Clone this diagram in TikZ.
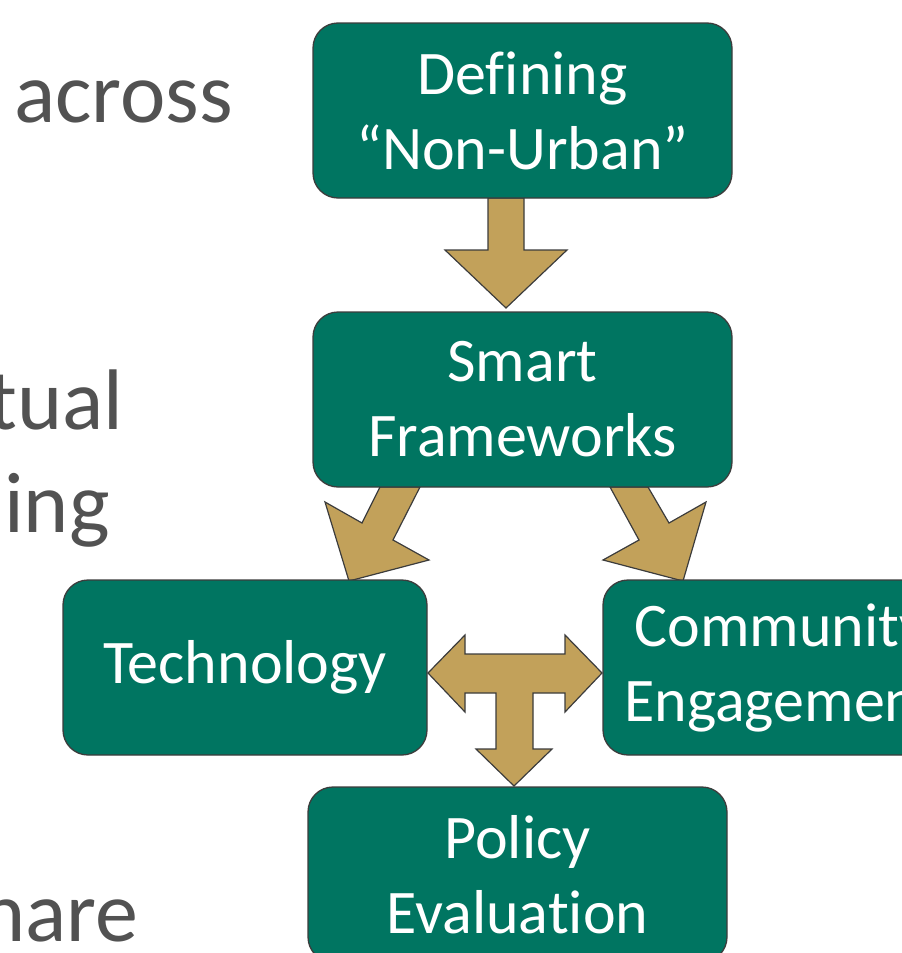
\documentclass[tikz,border=0pt]{standalone}
\usepackage{fontspec}
\setmainfont[Ligatures=NoCommon]{Carlito}
\definecolor{boxgreen}{RGB}{0,117,97}
\definecolor{arrowgold}{RGB}{194,161,90}
\definecolor{edgegray}{RGB}{60,60,60}
\definecolor{textgray}{RGB}{82,82,82}
\tikzset{
  stepbox/.style={draw=edgegray, line width=1.3pt, fill=boxgreen, rounded corners=25pt,
    text=white, align=center, font=\fontsize{62}{75}\selectfont, inner sep=0pt},
  blockarrow/.style={draw=edgegray, line width=1.2pt, fill=arrowgold, line join=miter},
  sidetext/.style={text=textgray, font=\fontsize{86}{100}\selectfont, inner sep=0pt, anchor=base west}
}
\begin{document}
\begin{tikzpicture}[x=1pt,y=-1pt]
\useasboundingbox (0,0) rectangle (902,953);
\clip (0,0) rectangle (902,953);

% side text (cut-off slide text)
\node[sidetext] (t1) at (14,122) {across};
\node[sidetext] (t2) at (-12,429) {tual};
\node[sidetext] (t3) at (4,532) {ing};
\node[sidetext] (t4) at (-20,941) {hare};

% block arrows
\draw[blockarrow] (488,198) -- (524,198) -- (524,250) -- (567,250) -- (506,308) -- (445,250) -- (488,250) -- cycle;
\draw[blockarrow] (380,487) -- (362,523) -- (325,502) -- (349,581) -- (429,560) -- (393,540) -- (420,487) -- cycle;
\draw[blockarrow] (648,487) -- (669,523) -- (706,502) -- (683,581) -- (603,560) -- (639,540) -- (610,487) -- cycle;
\draw[blockarrow] (428,673) -- (465,635) -- (465,654) -- (565,654) -- (565,635) -- (602,673) -- (565,712) -- (565,693)
  -- (533,693) -- (533,749) -- (552,749) -- (514,786) -- (476,749) -- (496,749) -- (496,693) -- (465,693) -- (465,712) -- cycle;

% boxes
\node[stepbox, minimum width=419pt, minimum height=175pt] (def) at (522.5,110.5) {Defining\\“Non-Urban”};
\node[stepbox, minimum width=419pt, minimum height=175pt] (smart) at (522.5,399.5) {Smart\\Frameworks};
\node[stepbox, minimum width=364pt, minimum height=175pt] (tech) at (245,667.5) {Technology};
\node[stepbox, minimum width=356pt, minimum height=175pt] (comm) at (781,667.5) {Community\\Engagement};
\node[stepbox, minimum width=419pt, minimum height=175pt] (pol) at (517.5,874.5) {Policy\\Evaluation};
\end{tikzpicture}
\end{document}
